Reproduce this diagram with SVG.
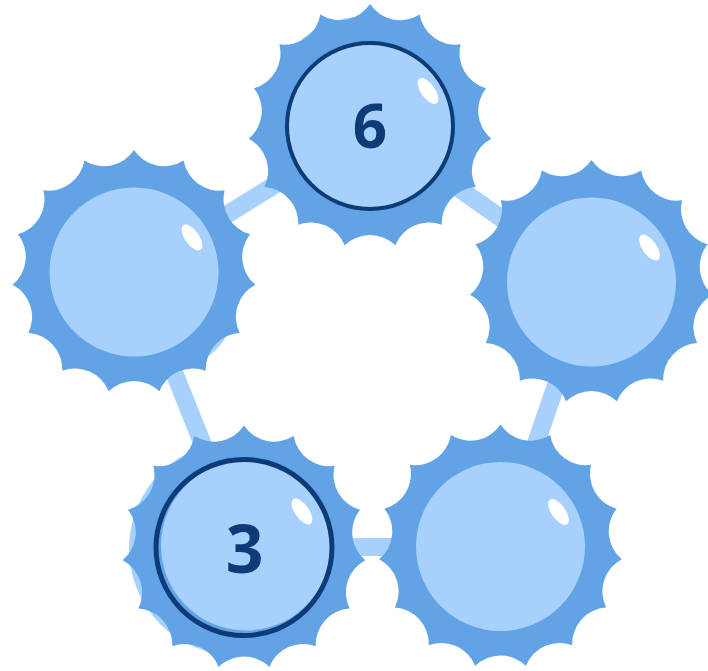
<svg xmlns="http://www.w3.org/2000/svg" xmlns:xlink="http://www.w3.org/1999/xlink" width="708" height="671" viewBox="0 0 708 671">
  <style>
    .bg { fill: #ffffff; }
    .gear { fill: #62a3e6; }
    .shadow { fill: #a7d1fc; }
    .core { fill: #a7d1fc; }
    .ring { fill: none; stroke: #0c3b78; }
    .shine { fill: #ffffff; }
    .edge { stroke: #a7d1fc; stroke-width: 18; stroke-linecap: butt; fill: none; }
    .num { fill: #0c3b78; font-family: "Open Sans", "Noto Sans", "DejaVu Sans", sans-serif; font-weight: 700; text-anchor: middle; }
  </style>
  <defs>
    <path id="scallop" d="M0,-122 A36.3,36.3 0 0 0 49.62,-111.45 A36.3,36.3 0 0 0 90.66,-81.63 A36.3,36.3 0 0 0 116.03,-37.7 A36.3,36.3 0 0 0 121.33,12.75 A36.3,36.3 0 0 0 105.66,61 A36.3,36.3 0 0 0 71.71,98.7 A36.3,36.3 0 0 0 25.37,119.33 A36.3,36.3 0 0 0 -25.37,119.33 A36.3,36.3 0 0 0 -71.71,98.7 A36.3,36.3 0 0 0 -105.66,61 A36.3,36.3 0 0 0 -121.33,12.75 A36.3,36.3 0 0 0 -116.03,-37.7 A36.3,36.3 0 0 0 -90.66,-81.63 A36.3,36.3 0 0 0 -49.62,-111.45 A36.3,36.3 0 0 0 0,-122 Z"/>
    <ellipse id="glint" cx="0" cy="0" rx="7" ry="15" transform="rotate(-35)"/>
  </defs>
  <rect class="bg" x="0" y="0" width="708" height="671"/>

  <g id="connectors">
    <line class="edge" x1="134" y1="272" x2="370" y2="126"/>
    <line class="edge" x1="370" y1="126" x2="591.5" y2="282"/>
    <line class="edge" x1="591.5" y1="282" x2="500.5" y2="546.5"/>
    <line class="edge" x1="500.5" y1="546.5" x2="244" y2="547.5"/>
    <line class="edge" x1="244" y1="547.5" x2="134" y2="272"/>
  </g>

  <g id="shadows">
    <circle class="shadow" cx="171.2" cy="305.5" r="63"/>
    <circle class="shadow" cx="361.9" cy="107.7" r="91"/>
    <circle class="shadow" cx="236" cy="548.5" r="107"/>
  </g>

  <g id="node-left">
    <use xlink:href="#scallop" class="gear" transform="translate(134,272)"/>
    <circle class="core" cx="134" cy="272" r="84.5"/>
    <use xlink:href="#glint" class="shine" transform="translate(192,237.5)"/>
  </g>

  <g id="node-6">
    <use xlink:href="#scallop" class="gear" transform="translate(370,126)"/>
    <circle class="core" cx="370" cy="126" r="83"/>
    <circle class="ring" cx="370" cy="126" r="83" stroke-width="4"/>
    <use xlink:href="#glint" class="shine" transform="translate(428,91)"/>
    <text class="num" x="370" y="148" font-size="60">6</text>
  </g>

  <g id="node-right">
    <use xlink:href="#scallop" class="gear" transform="translate(591.5,282)"/>
    <circle class="core" cx="591.5" cy="282" r="84.5"/>
    <use xlink:href="#glint" class="shine" transform="translate(649.5,247.5)"/>
  </g>

  <g id="node-bottom-right">
    <use xlink:href="#scallop" class="gear" transform="translate(500.5,546.5)"/>
    <circle class="core" cx="500.5" cy="546.5" r="84.5"/>
    <use xlink:href="#glint" class="shine" transform="translate(558.5,512)"/>
  </g>

  <g id="node-3">
    <use xlink:href="#scallop" class="gear" transform="translate(244,547.5)"/>
    <circle class="core" cx="246" cy="545.5" r="85"/>
    <circle class="ring" cx="244" cy="547.5" r="88" stroke-width="5"/>
    <use xlink:href="#glint" class="shine" transform="translate(302,511.5)"/>
    <text class="num" x="244.5" y="573" font-size="66">3</text>
  </g>
</svg>
